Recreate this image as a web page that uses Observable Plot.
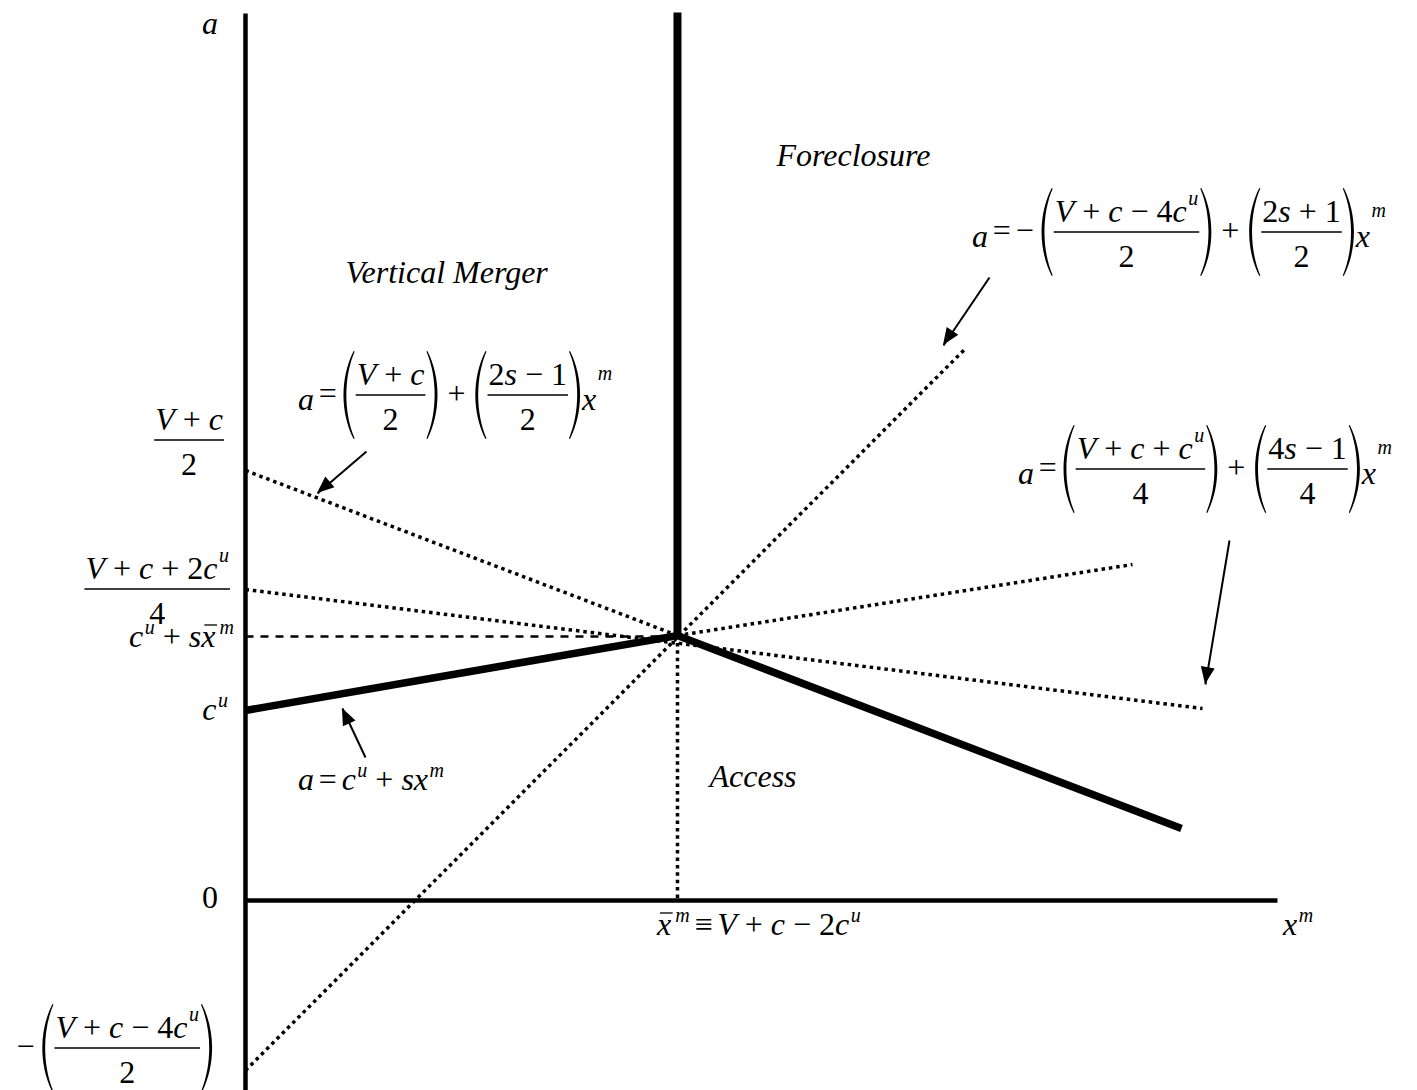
<!DOCTYPE html>
<html>
<head>
<meta charset="utf-8">
<script src="https://cdn.jsdelivr.net/npm/d3@7"></script>
<script src="https://cdn.jsdelivr.net/npm/@observablehq/plot@0.6"></script>
<style>
  html, body { margin: 0; padding: 0; background: #fff; overflow: hidden; }
  #chart svg { display: block; }
</style>
</head>
<body>
<div id="chart"></div>
<script>
// ---- Diagram geometry (x = x^m in units of x̄^m, a = access price) ----
const xDomain = [-0.5671, 2.7130];
const yDomain = [-1.9, 9.0];

// axes of the (x^m, a) plane
const axes = [
  {x1: 0, a1: -1.9, x2: 0, a2: 8.87},
  {x1: 0, a1: 0, x2: 2.3889, a2: 0}
];

// thick boundaries between the regimes
const accessBoundary = [
  {x: 0, a: 1.90},
  {x: 1, a: 2.65},
  {x: 2.1667, a: 0.72}
];
const foreclosureBoundary = [{x1: 1, a1: 2.65, x2: 1, a2: 8.88}];

// dotted reference lines
const dottedLines = [
  {x1: 0, a1: 4.30, x2: 1, a2: 2.65},
  {x1: 0, a1: 3.11, x2: 2.2153, a2: 1.92},
  {x1: 1, a1: 2.65, x2: 2.0532, a2: 3.36},
  {x1: 0, a1: -1.70, x2: 1.6667, a2: 5.52},
  {x1: 1, a1: 2.65, x2: 1, a2: 0}
];

// dashed level c^u + s x̄^m
const dashedLines = [{x1: 0, a1: 2.64, x2: 1, a2: 2.64}];

// pointer arrows from the formulas to their lines
const arrows = [
  {x1: 1.7222, a1: 6.23, x2: 1.6157, a2: 5.55},
  {x1: 0.2801, a1: 4.49, x2: 0.1667, a2: 4.07},
  {x1: 2.2778, a1: 3.60, x2: 2.2222, a2: 2.16},
  {x1: 0.2778, a1: 1.43, x2: 0.2245, a2: 1.92}
];

// region names
const regionLabels = [
  {label: "Foreclosure", x: 1.2292, a: 7.35},
  {label: "Vertical Merger", x: 0.2315, a: 6.18},
  {label: "Access", x: 1.0741, a: 1.14}
];
const axisName = [{label: "a", x: -0.0822, a: 8.67}];
const originLabel = [{label: "0", x: -0.0822, a: -0.07}];

// formulas (content helpers)
const frac = (num, den) => ({type: "frac", num, den});
const paren = (...body) => ({type: "paren", body});

const formulas = [
  {x: -0.0394, a: 1.80, align: "end", parts: ["c^u"]},
  {x: -0.0486, a: 4.45, align: "end", parts: [frac("V + c", "2")]},
  {x: -0.0347, a: 2.96, align: "end", parts: [frac("V + c + 2c^u", "4")]},
  {x: -0.0255, a: 2.53, align: "end", parts: ["c^u + sx\u0304^m"]},
  {x: -0.0718, a: -1.63, align: "end", parts: ["−", paren(frac("V + c − 4c^u", "2"))]},
  {x: 0.9537, a: -0.35, align: "start", parts: ["x\u0304^m ≡ V + c − 2c^u"]},
  {x: 2.4028, a: -0.35, align: "start", parts: ["x^m"]},
  {x: 0.1227, a: 1.10, align: "start", parts: ["a = c^u + sx^m"]},
  {x: 1.6829, a: 6.53, align: "start",
   parts: ["a = −", paren(frac("V + c − 4c^u", "2")), "+", paren(frac("2s + 1", "2")), "x^m"]},
  {x: 0.1227, a: 4.90, align: "start",
   parts: ["a =", paren(frac("V + c", "2")), "+", paren(frac("2s − 1", "2")), "x^m"]},
  {x: 1.7894, a: 4.16, align: "start",
   parts: ["a =", paren(frac("V + c + c^u", "4")), "+", paren(frac("4s − 1", "4")), "x^m"]}
];

// ---- small math typesetter ----
const FONT = '"Liberation Serif", "Times New Roman", serif';
const SIZE = 32, SUP_SIZE = 20;
const BIN_SPACE = 0.25 * SIZE, REL_SPACE = 0.15 * SIZE, UNARY_GAP = 6;
const PAREN_W = 14;
const FRAC = {bar: -15, num: -25, den: 20, pad: 1};
const PAREN = {top: -59, bottom: 29};
const OP_LIFT = 6;
const SUP_RAISE = {row: 13, num: 17, tall: 30};

const measureCtx = document.createElement("canvas").getContext("2d");
function textWidth(text, size, italic) {
  measureCtx.font = `${italic ? "italic " : ""}${size}px ${FONT}`;
  return measureCtx.measureText(text).width;
}

function tokenize(str) {
  const out = [];
  const chars = Array.from(str);
  for (let i = 0; i < chars.length; i++) {
    const ch = chars[i];
    const last = out[out.length - 1];
    if (ch === " ") continue;
    if (ch === "^") { last.sup = chars[++i]; continue; }
    if (ch === "\u0304") { last.bar = true; continue; }
    if (/[A-Za-z]/.test(ch)) out.push({type: "atom", text: ch, italic: true});
    else if (/[0-9]/.test(ch)) {
      if (last && last.type === "atom" && !last.italic && !last.sup) last.text += ch;
      else out.push({type: "atom", text: ch, italic: false});
    } else if (ch === "+" || ch === "−") out.push({type: "bin", text: ch});
    else out.push({type: "rel", text: ch});
  }
  return out;
}

function place(box, sub, dx, dy) {
  for (const g of sub.glyphs) box.glyphs.push({...g, x: g.x + dx, y: g.y + dy});
  for (const r of sub.rules) box.rules.push({...r, x1: r.x1 + dx, x2: r.x2 + dx, y: r.y + dy});
  for (const p of sub.parens) box.parens.push({...p, x: p.x + dx, top: p.top + dy, bottom: p.bottom + dy});
}

function layoutRow(parts, level = "row") {
  const toks = parts.flatMap(p => typeof p === "string" ? tokenize(p) : [p]);
  const tall = toks.some(t => t.type === "frac" || t.type === "paren");
  const raise = tall ? SUP_RAISE.tall : SUP_RAISE[level];
  const box = {glyphs: [], rules: [], parens: [], width: 0};
  let x = 0, prev = null;
  for (const t of toks) {
    if (t.type === "atom") {
      const w = textWidth(t.text, SIZE, t.italic);
      box.glyphs.push({text: t.text, x, y: 0, size: SIZE, italic: t.italic});
      if (t.bar) box.rules.push({x1: x + 3, x2: x + w + 1.5, y: -22, w: 1.3});
      x += w;
      if (t.sup) {
        x += (t.italic ? 1.5 : 0.5) + (t.bar ? 2.5 : 0);
        box.glyphs.push({text: t.sup, x, y: -raise, size: SUP_SIZE, italic: true});
        x += textWidth(t.sup, SUP_SIZE, true);
      }
    } else if (t.type === "bin" || t.type === "rel") {
      const unary = t.type === "bin" && (!prev || prev.type === "bin" || prev.type === "rel");
      const sp = unary ? 0 : t.type === "bin" ? BIN_SPACE : REL_SPACE;
      x += sp;
      box.glyphs.push({text: t.text, x, y: tall ? -OP_LIFT : 0, size: SIZE, italic: false});
      x += textWidth(t.text, SIZE, false) + (unary ? UNARY_GAP : sp);
    } else if (t.type === "frac") {
      const num = layoutRow([t.num], "num"), den = layoutRow([t.den], "num");
      const w = Math.max(num.width, den.width) + 2 * FRAC.pad;
      place(box, num, x + (w - num.width) / 2, FRAC.num);
      place(box, den, x + (w - den.width) / 2, FRAC.den);
      box.rules.push({x1: x, x2: x + w, y: FRAC.bar, w: 1.3});
      x += w;
    } else if (t.type === "paren") {
      box.parens.push({x, top: PAREN.top, bottom: PAREN.bottom, side: "left"});
      x += PAREN_W;
      const inner = layoutRow(t.body, level);
      place(box, inner, x, 0);
      x += inner.width;
      box.parens.push({x, top: PAREN.top, bottom: PAREN.bottom, side: "right"});
      x += PAREN_W;
    }
    prev = t;
  }
  box.width = x;
  return box;
}

function parenPath(x0, top, bottom, side) {
  const h = bottom - top;
  const s = side === "left" ? 1 : -1;
  const base = side === "left" ? x0 : x0 + PAREN_W;
  const tip = base + s * 12, outer = base + s * -1.5, inner = base + s * 2;
  const tipIn = tip + s * 1;
  return `M${tip},${top} C${outer},${top + 0.3 * h} ${outer},${bottom - 0.3 * h} ${tip},${bottom}` +
         ` L${tipIn},${bottom - 0.6} C${inner},${bottom - 0.3 * h} ${inner},${top + 0.3 * h} ${tipIn},${top + 0.6} Z`;
}

const NS = "http://www.w3.org/2000/svg";
function el(name, attrs) {
  const e = document.createElementNS(NS, name);
  for (const k in attrs) e.setAttribute(k, attrs[k]);
  return e;
}

// custom mark: typeset formulas at data anchors
function formulaMark(index, scales) {
  const g = el("g", {"aria-label": "formulas", fill: "#000", "text-anchor": "start"});
  for (const f of formulas) {
    const L = layoutRow(f.parts);
    let ox = scales.x(f.x);
    const oy = scales.y(f.a);
    if (f.align === "end") ox -= L.width;
    for (const t of L.glyphs) {
      const e = el("text", {
        x: (ox + t.x).toFixed(2), y: (oy + t.y).toFixed(2),
        "text-anchor": "start",
        "font-family": FONT, "font-size": t.size,
        "font-style": t.italic ? "italic" : "normal"
      });
      e.textContent = t.text;
      g.appendChild(e);
    }
    for (const r of L.rules) {
      g.appendChild(el("line", {x1: ox + r.x1, x2: ox + r.x2, y1: oy + r.y, y2: oy + r.y, stroke: "#000", "stroke-width": r.w}));
    }
    for (const p of L.parens) {
      g.appendChild(el("path", {d: parenPath(ox + p.x, oy + p.top, oy + p.bottom, p.side), fill: "#000"}));
    }
  }
  return g;
}

// custom mark: filled arrowheads at the arrow tips
function arrowHeadMark(index, scales) {
  const g = el("g", {"aria-label": "arrowheads", fill: "#000"});
  const L = 17, W = 7;
  for (const d of arrows) {
    const x1 = scales.x(d.x1), y1 = scales.y(d.a1), x2 = scales.x(d.x2), y2 = scales.y(d.a2);
    const len = Math.hypot(x2 - x1, y2 - y1), ux = (x2 - x1) / len, uy = (y2 - y1) / len;
    const bx = x2 - ux * L, by = y2 - uy * L;
    g.appendChild(el("path", {d: `M${x2},${y2} L${bx - uy * W},${by + ux * W} L${bx + uy * W},${by - ux * W} Z`}));
  }
  return g;
}

const seg = {x1: "x1", y1: "a1", x2: "x2", y2: "a2", stroke: "#000", strokeLinecap: "butt"};
const labelFont = {fontFamily: FONT, fontSize: SIZE, lineAnchor: "bottom", fill: "#000"};

const chart = Plot.plot({
  width: 1417,
  height: 1090,
  marginTop: 0, marginRight: 0, marginBottom: 0, marginLeft: 0,
  x: {domain: xDomain, axis: null},
  y: {domain: yDomain, axis: null},
  style: {background: "#fff", color: "#000"},
  marks: [
    Plot.link(axes, {...seg, strokeWidth: 4.5}),
    Plot.link(dashedLines, {...seg, strokeWidth: 2.5, strokeDasharray: "8,7"}),
    Plot.link(dottedLines, {...seg, strokeWidth: 3.5, strokeDasharray: "3.5,3.9"}),
    Plot.line(accessBoundary, {x: "x", y: "a", stroke: "#000", strokeWidth: 7.5,
      strokeLinecap: "butt", strokeLinejoin: "miter", strokeMiterlimit: 10}),
    Plot.link(foreclosureBoundary, {...seg, strokeWidth: 8}),
    Plot.link(arrows, {...seg, strokeWidth: 2}),
    arrowHeadMark,
    Plot.text(regionLabels, {x: "x", y: "a", text: "label", ...labelFont, fontStyle: "italic", textAnchor: "start"}),
    Plot.text(axisName, {x: "x", y: "a", text: "label", ...labelFont, fontStyle: "italic", textAnchor: "middle"}),
    Plot.text(originLabel, {x: "x", y: "a", text: "label", ...labelFont, textAnchor: "middle"}),
    formulaMark
  ]
});

document.getElementById("chart").appendChild(chart);
</script>
</body>
</html>
